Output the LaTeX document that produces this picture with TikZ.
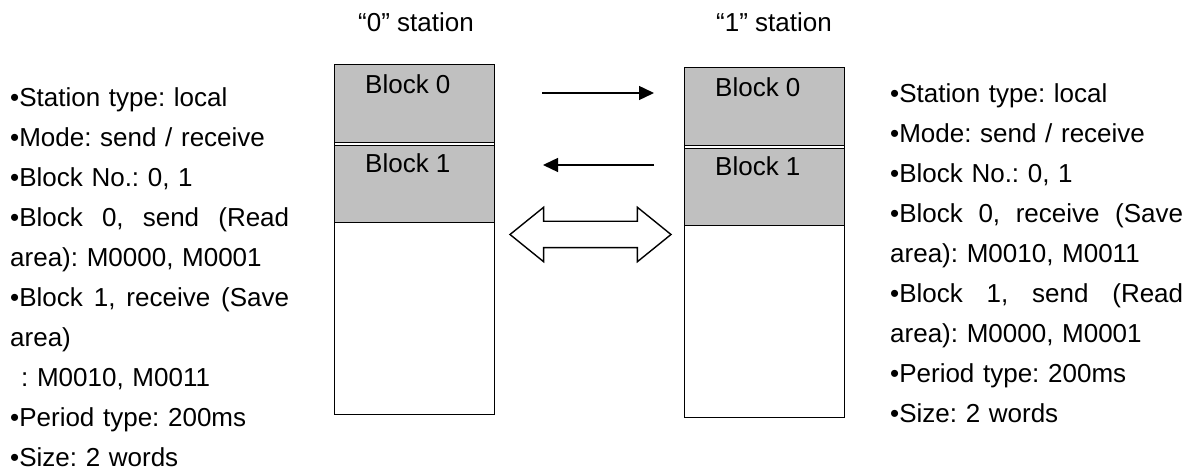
\documentclass[tikz,border=0pt]{standalone}
\usepackage{fontspec}
\setmainfont{Liberation Sans}
\usetikzlibrary{arrows.meta,shapes.arrows}
\definecolor{blkgray}{RGB}{192,192,192}
\frenchspacing
\begin{document}
\begin{tikzpicture}[x=1pt,y=-1pt,font=\fontsize{26}{40}\selectfont,
  blk/.style={draw,fill=blkgray,line width=1.4pt,minimum width=160pt,anchor=north west,inner sep=0pt},
  flow/.style={line width=1.4pt,-{Triangle[length=15pt,width=14pt]}},
  info/.style={anchor=base west,inner sep=0pt,align=left}]
  \useasboundingbox (0,0) rectangle (1192,470);

  \foreach \x/\y/\tx/\n in {334/64/416/0,684/67/774/1} {
    \node[blk,fill=white,minimum height=350pt] (st\n) at (\x,\y) {};
    \node[blk,minimum height=78pt] (b\n0) at (\x,\y) {};
    \node[blk,minimum height=77pt] (b\n1) at (\x,\y+81) {};
    \node[anchor=base west,inner sep=0pt] (l\n0) at (\x+31,\y+30) {Block 0};
    \node[anchor=base west,inner sep=0pt] (l\n1) at (\x+31,\y+109) {Block 1};
    \node[anchor=base,inner sep=0pt] (t\n) at (\tx,32) {“\n” station};
  }

  \coordinate (s0) at (542,93);
  \coordinate (r1) at (654,93);
  \coordinate (s1) at (654,165);
  \coordinate (r0) at (543,165);
  \draw[flow] (s0) -- (r1);
  \draw[flow] (s1) -- (r0);

  \node[double arrow,draw,line width=1.4pt,fill=white,inner xsep=0pt,inner ysep=12.5pt,
    minimum height=161pt,double arrow head extend=14pt,
    double arrow tip angle=78] (xfer) at (590.5,234.5) {};

  \node[info,text width=279pt] (left) at (10,106.7) {%
    •Station type: local\\
    •Mode: send / receive\\
    •Block No.: 0, 1\\
    \makebox[279pt][l]{•Block\hfill 0,\hfill send\hfill (Read}\\
    area): M0000, M0001\\
    \makebox[279pt][l]{•Block\hfill 1,\hfill receive\hfill (Save}\\
    area)\\
    \hspace*{11pt}: M0010, M0011\\
    •Period type: 200ms\\
    •Size: 2 words};

  \node[info,text width=293pt] (right) at (890,103) {%
    •Station type: local\\
    •Mode: send / receive\\
    •Block No.: 0, 1\\
    \makebox[293pt][l]{•Block\hfill 0,\hfill receive\hfill (Save}\\
    area): M0010, M0011\\
    \makebox[293pt][l]{•Block\hfill 1,\hfill send\hfill (Read}\\
    area): M0000, M0001\\
    •Period type: 200ms\\
    •Size: 2 words};
\end{tikzpicture}
\end{document}
